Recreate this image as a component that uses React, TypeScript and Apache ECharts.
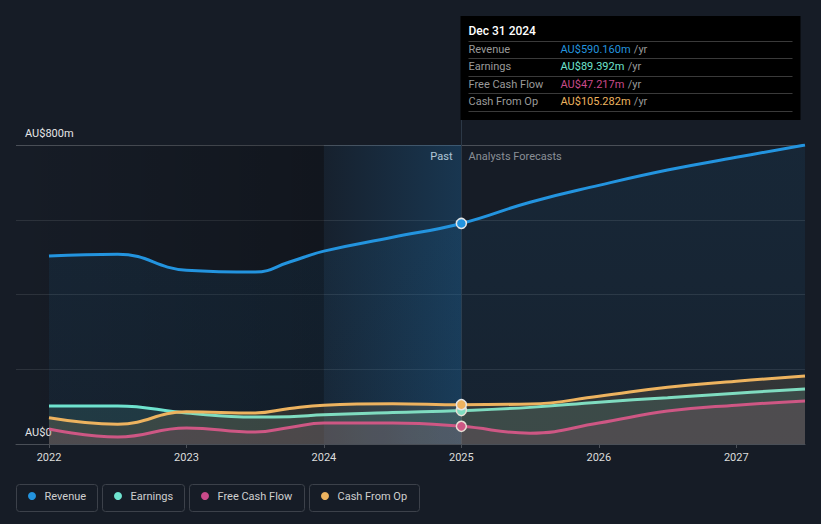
import React, { useEffect, useRef } from 'react';
import * as echarts from 'echarts';

const xYears = [2022, 2022.5, 2023, 2023.5, 2023.75, 2024, 2024.5, 2025, 2025.5, 2026, 2026.5, 2027, 2027.5];
const revenue = [503, 508, 465, 460, 487, 516, 553, 590.16, 647, 692, 733, 767, 800];
const earnings = [102, 102, 83, 72, 73, 78, 84, 89.392, 98, 112, 124, 136, 147];
const freeCashFlow = [40, 19, 43, 32, 44, 56, 56, 47.217, 29, 56, 88, 104, 115];
const cashFromOp = [70, 53, 86, 83, 95, 104, 108, 105.282, 107, 128, 152, 168, 182];
const yearTicks = [2022, 2023, 2024, 2025, 2026, 2027];
const yMax = 800;
const markYear = 2025;
const pastStart = 2024;
const xMin = 2021.76;
const xMax = 2027.5;

const seriesNames = ['Revenue', 'Earnings', 'Free Cash Flow', 'Cash From Op'];
const seriesColors = ['#2394DF', '#6FE3CF', '#C94A8A', '#EDB35F'];
const tooltipDate = 'Dec 31 2024';
const tooltipValues = ['AU$590.160m', 'AU$89.392m', 'AU$47.217m', 'AU$105.282m'];

const FONT = 'Roboto, "Noto Sans", sans-serif';

export default function App() {
  const ref = useRef<HTMLDivElement>(null);
  useEffect(() => {
    const chart = echarts.init(ref.current!, null, { renderer: 'svg' });
    const allData = [revenue, earnings, freeCashFlow, cashFromOp];
    const markIdx = xYears.indexOf(markYear);

    const series: any[] = allData.map((vals, si) => {
      const color = seriesColors[si];
      const data = xYears.map((x, i) =>
        i === markIdx
          ? {
              value: [x, vals[i]],
              symbol: 'circle',
              symbolSize: 10,
              itemStyle: { color, borderColor: '#e6e6e6', borderWidth: 1.5 },
            }
          : { value: [x, vals[i]], symbol: 'none' }
      );
      const s: any = {
        name: seriesNames[si],
        type: 'line',
        data,
        smooth: 0.45,
        showSymbol: true,
        symbol: 'none',
        z: 3 + si,
        lineStyle: { color, width: 3 },
        itemStyle: { color },
        areaStyle:
          si === 0
            ? {
                color: new echarts.graphic.LinearGradient(0, 0, 0, 1, [
                  { offset: 0, color: 'rgba(35,148,223,0.13)' },
                  { offset: 1, color: 'rgba(35,148,223,0.08)' },
                ]),
              }
            : { color, opacity: 0.13 },
      };
      if (si === 0) {
        s.markArea = {
          silent: true,
          z: 1,
          data: [
            [
              {
                xAxis: xMin,
                itemStyle: {
                  color: new echarts.graphic.LinearGradient(0, 0, 1, 0, [
                    { offset: 0, color: 'rgba(0,0,0,0)' },
                    { offset: 1, color: 'rgba(0,0,0,0.22)' },
                  ]),
                },
              },
              { xAxis: pastStart },
            ],
            [
              {
                xAxis: pastStart,
                itemStyle: {
                  color: new echarts.graphic.LinearGradient(0, 0, 1, 0, [
                    { offset: 0, color: 'rgba(30,110,170,0.06)' },
                    { offset: 1, color: 'rgba(30,110,170,0.32)' },
                  ]),
                },
              },
              { xAxis: markYear },
            ],
          ],
        };
      }
      return s;
    });

    chart.setOption({
      animation: false,
      backgroundColor: '#161c26',
      textStyle: { fontFamily: FONT },
      grid: { left: 16, right: 16, top: 145, bottom: 80, containLabel: false },
      xAxis: {
        type: 'value',
        min: xMin,
        max: xMax,
        axisLine: { show: true, lineStyle: { color: '#4a4f57', width: 1 } },
        axisTick: { show: true, customValues: yearTicks, length: 4, lineStyle: { color: '#4a4f57' } },
        axisLabel: {
          customValues: yearTicks,
          color: '#dcdcdc',
          fontSize: 11,
          margin: 8,
          fontFamily: FONT,
          formatter: (v: number) => String(Math.round(v)),
        },
        splitLine: { show: false },
      },
      yAxis: {
        type: 'value',
        min: 0,
        max: yMax,
        interval: 200,
        axisLine: { show: false },
        axisTick: { show: false },
        axisLabel: {
          inside: true,
          margin: 9,
          color: '#e6e6e6',
          fontSize: 11,
          fontFamily: FONT,
          verticalAlign: 'bottom',
          padding: [0, 0, 6, 0],
          formatter: (v: number) => (v === 0 ? 'AU$0' : v === yMax ? 'AU$800m' : ''),
        },
        splitLine: {
          show: true,
          lineStyle: { color: ['#4a4f57', '#2c323b', '#2c323b', '#2c323b', '#4a4f57'], width: 1 },
        },
      },
      series,
    });

    const p0 = chart.convertToPixel({ gridIndex: 0 }, [markYear, 0]) as number[];
    const pTop = chart.convertToPixel({ gridIndex: 0 }, [markYear, yMax]) as number[];
    const mx = Math.round(p0[0]) + 0.5;

    const ttX = mx - 1;
    const ttY = 16;
    const ttW = 340;
    const ttH = 104;
    const sepY = [25.5, 42.5, 60.5, 77.5, 95.5];
    const rowY = [33.5, 50.5, 68, 85.5];

    const tooltipChildren: any[] = [
      { type: 'rect', shape: { x: 0, y: 0, width: ttW, height: ttH }, style: { fill: '#000000' } },
      {
        type: 'text',
        x: 8,
        y: 15,
        style: { text: tooltipDate, fill: '#ffffff', font: `500 12px ${FONT}`, verticalAlign: 'middle' },
      },
      ...sepY.map((y) => ({
        type: 'line',
        shape: { x1: 8, y1: y, x2: 332, y2: y },
        style: { stroke: '#3a3a3a', lineWidth: 1 },
      })),
      ...seriesNames.map((n, i) => ({
        type: 'text',
        x: 8,
        y: rowY[i],
        style: { text: n, fill: '#9a9a9a', font: `11px ${FONT}`, verticalAlign: 'middle' },
      })),
      ...tooltipValues.map((v, i) => ({
        type: 'text',
        x: 100,
        y: rowY[i],
        style: {
          text: `{v|${v}} {u|/yr}`,
          verticalAlign: 'middle',
          rich: {
            v: { fill: seriesColors[i], font: `11px ${FONT}` },
            u: { fill: '#9a9a9a', font: `11px ${FONT}` },
          },
        },
      })),
    ];

    const legendBoxes = [
      { x: 16.5, w: 81 },
      { x: 102.5, w: 82 },
      { x: 189.5, w: 115 },
      { x: 309.5, w: 110 },
    ];
    const legendChildren: any[] = [];
    legendBoxes.forEach((b, i) => {
      legendChildren.push({
        type: 'rect',
        shape: { x: b.x, y: 484.5, width: b.w, height: 27, r: 3 },
        style: { fill: 'transparent', stroke: '#3c414a', lineWidth: 1 },
      });
      legendChildren.push({
        type: 'circle',
        shape: { cx: b.x + 15.5, cy: 496, r: 4 },
        style: { fill: seriesColors[i] },
      });
      legendChildren.push({
        type: 'text',
        x: b.x + 28,
        y: 496,
        style: { text: seriesNames[i], fill: '#cfcfcf', font: `11px ${FONT}`, verticalAlign: 'middle' },
      });
    });

    chart.setOption({
      graphic: [
        {
          type: 'line',
          z: 2,
          silent: true,
          shape: { x1: mx, y1: ttY + ttH, x2: mx, y2: p0[1] },
          style: { stroke: '#2c3846', lineWidth: 1 },
        },
        {
          type: 'text',
          x: mx - 9,
          y: pTop[1] + 11,
          style: { text: 'Past', fill: '#e6e6e6', font: `11px ${FONT}`, align: 'right', verticalAlign: 'middle' },
        },
        {
          type: 'text',
          x: mx + 7,
          y: pTop[1] + 11,
          style: { text: 'Analysts Forecasts', fill: '#8a8f96', font: `11px ${FONT}`, align: 'left', verticalAlign: 'middle' },
        },
        { type: 'group', x: ttX, y: ttY, z: 100, children: tooltipChildren },
        { type: 'group', children: legendChildren },
      ],
    });

    return () => chart.dispose();
  }, []);
  return <div ref={ref} style={{ position: 'fixed', left: 0, top: 0, width: 821, height: 524 }} />;
}
